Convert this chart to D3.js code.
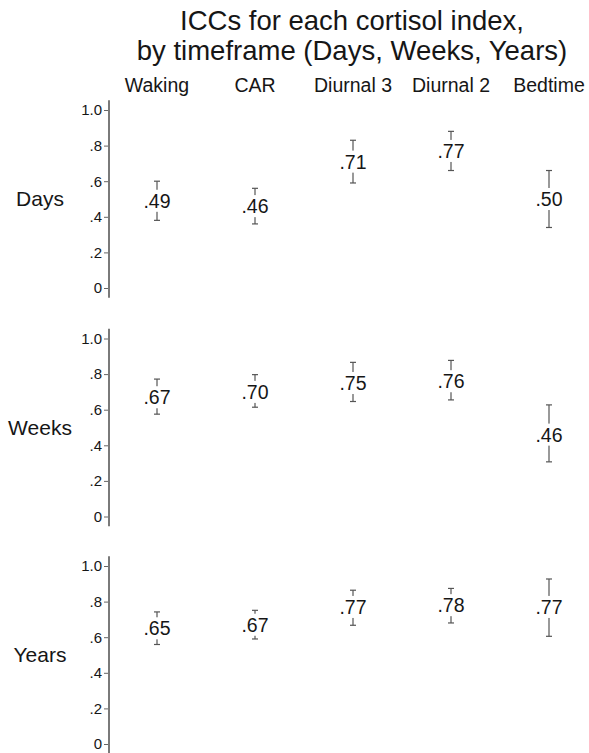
<!DOCTYPE html>
<html>
<head>
<meta charset="utf-8">
<script src="https://cdn.jsdelivr.net/npm/d3@7"></script>
<style>
  html, body { margin: 0; padding: 0; background: #fff; }
  svg { display: block; font-family: "Liberation Sans", Arial, sans-serif; }
</style>
</head>
<body>
<svg id="chart" width="589" height="753"></svg>
<script>
// ---- data ----
const indices = ["Waking", "CAR", "Diurnal 3", "Diurnal 2", "Bedtime"];
const timeframes = ["Days", "Weeks", "Years"];
const iccDays  = [0.49, 0.46, 0.71, 0.77, 0.50];
const iccWeeks = [0.67, 0.70, 0.75, 0.76, 0.46];
const iccYears = [0.65, 0.67, 0.77, 0.78, 0.77];
const loDays  = [0.38, 0.36, 0.59, 0.66, 0.34];
const hiDays  = [0.60, 0.56, 0.83, 0.88, 0.66];
const loWeeks = [0.575, 0.614, 0.646, 0.655, 0.307];
const hiWeeks = [0.772, 0.797, 0.866, 0.877, 0.627];
const loYears = [0.559, 0.59, 0.667, 0.68, 0.605];
const hiYears = [0.742, 0.751, 0.864, 0.874, 0.927];
const valueLabelsDays  = [".49", ".46", ".71", ".77", ".50"];
const valueLabelsWeeks = [".67", ".70", ".75", ".76", ".46"];
const valueLabelsYears = [".65", ".67", ".77", ".78", ".77"];
const tickValues = [0, 0.2, 0.4, 0.6, 0.8, 1.0];
const tickLabels = ["0", ".2", ".4", ".6", ".8", "1.0"];
const titleLines = ["ICCs for each cortisol index,", "by timeframe (Days, Weeks, Years)"];

const panels = [
  {name: timeframes[0], icc: iccDays,  lo: loDays,  hi: hiDays,  labels: valueLabelsDays},
  {name: timeframes[1], icc: iccWeeks, lo: loWeeks, hi: hiWeeks, labels: valueLabelsWeeks},
  {name: timeframes[2], icc: iccYears, lo: loYears, hi: hiYears, labels: valueLabelsYears}
];

// ---- layout ----
const svg = d3.select("#chart");
const axisX = 109;
const panelTops = [110, 338.5, 566];
const panelH = 178;
const textColor = "#161616";
const fsValue = 19.5;

const x = d3.scalePoint().domain(indices).range([157, 549]);

// title
svg.append("g").selectAll("text").data(titleLines).join("text")
  .attr("x", 352).attr("y", (d, i) => 30 + i * 30)
  .attr("text-anchor", "middle")
  .attr("font-size", 27.5).attr("fill", textColor)
  .text(d => d);

// column headers
svg.append("g").selectAll("text").data(indices).join("text")
  .attr("x", d => x(d)).attr("y", 92)
  .attr("text-anchor", "middle")
  .attr("font-size", 19.5).attr("fill", textColor)
  .text(d => d);

panels.forEach((p, pi) => {
  const top = panelTops[pi];
  const y = d3.scaleLinear().domain([0, 1]).range([top + panelH, top]);
  const g = svg.append("g");

  // row label
  g.append("text")
    .attr("x", 40).attr("y", top + 96)
    .attr("text-anchor", "middle")
    .attr("font-size", 21).attr("fill", textColor)
    .text(p.name);

  // axis
  const axis = d3.axisLeft(y).tickValues(tickValues)
    .tickFormat((d, i) => tickLabels[i]).tickSize(5).tickSizeOuter(0).tickPadding(2);
  const ag = g.append("g").attr("transform", `translate(${axisX},0)`).call(axis);
  ag.select(".domain").remove();
  ag.selectAll(".tick line").attr("stroke", "#666").attr("stroke-width", 1);
  ag.selectAll(".tick text").attr("font-size", 15).attr("fill", textColor)
    .attr("font-family", "'Liberation Sans', Arial, sans-serif");
  g.append("line")
    .attr("x1", axisX).attr("x2", axisX)
    .attr("y1", y(1.055)).attr("y2", y(-0.055))
    .attr("stroke", "#7a7a7a").attr("stroke-width", 2);

  // error bars + labels
  indices.forEach((c, i) => {
    const cx = x(c);
    const vy = y(p.icc[i]);
    const eg = g.append("g");
    eg.append("line")
      .attr("x1", cx).attr("x2", cx)
      .attr("y1", y(p.hi[i])).attr("y2", y(p.lo[i]))
      .attr("stroke", "#555").attr("stroke-width", 1.2);
    [p.hi[i], p.lo[i]].forEach(v => {
      eg.append("line")
        .attr("x1", cx - 3).attr("x2", cx + 3)
        .attr("y1", y(v)).attr("y2", y(v))
        .attr("stroke", "#555").attr("stroke-width", 1.2);
    });
    const t = eg.append("text")
      .attr("x", cx).attr("y", vy).attr("dy", "0.36em")
      .attr("text-anchor", "middle")
      .attr("font-size", fsValue).attr("fill", textColor)
      .text(p.labels[i]);
    const bb = t.node().getBBox();
    eg.insert("rect", "text")
      .attr("x", bb.x - 1).attr("width", bb.width + 2)
      .attr("y", vy - 0.36 * fsValue - 4).attr("height", 0.72 * fsValue + 8)
      .attr("fill", "#fff");
  });
});
</script>
</body>
</html>
